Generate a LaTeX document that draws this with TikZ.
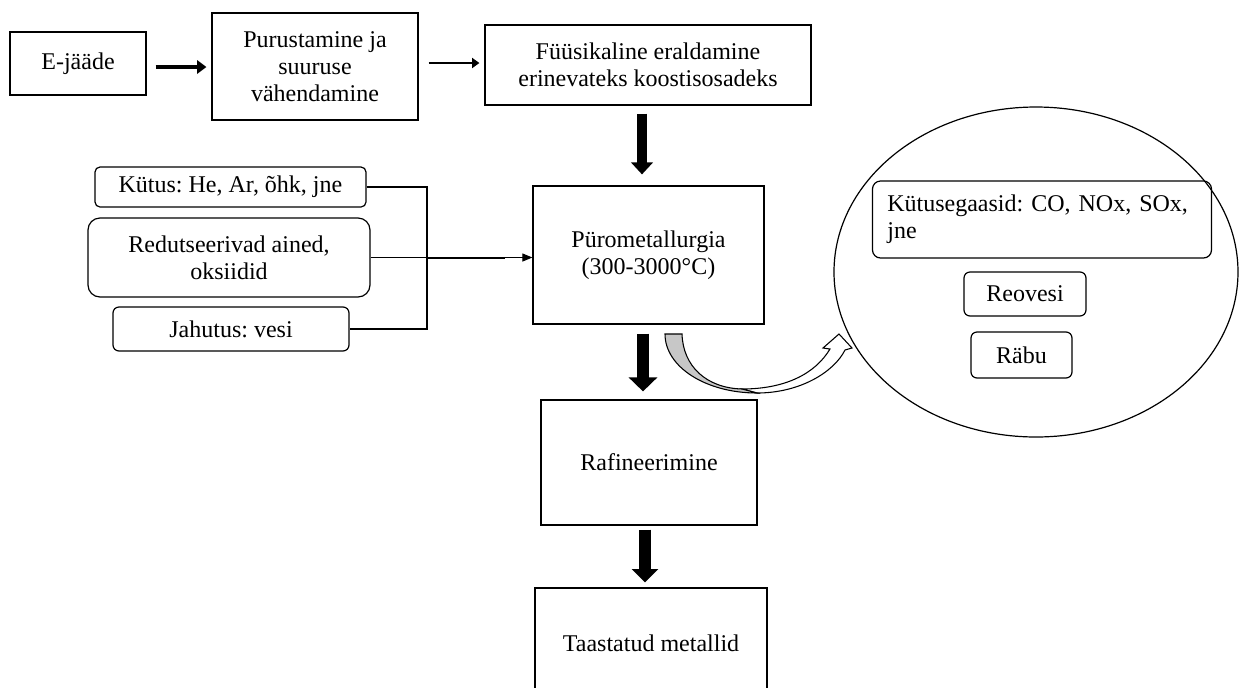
\documentclass[tikz,border=0pt]{standalone}
\usepackage{fontspec}
\setmainfont{Liberation Serif}
\usetikzlibrary{arrows.meta,shapes.geometric,calc}
\frenchspacing

\tikzset{
  x=0.75pt, y=-0.75pt,
  every node/.style={font=\fontsize{18pt}{20.5pt}\selectfont, align=center, inner sep=0pt},
  plainbox/.style={draw, line width=0.9pt, rectangle},
  roundbox/.style={draw, line width=0.9pt, rectangle, rounded corners=#1},
  roundbox/.default=4.5pt,
  feed/.style={line width=0.8pt},
}

\begin{document}
\begin{tikzpicture}
\clip (0,0) rectangle (1240,687);
\fill[white] (0,0) rectangle (1240,687);

% main process chain
\node[plainbox, minimum width=102pt, minimum height=47.25pt] (ejaade) at (78,63.5) {E-jääde};
\node[plainbox, minimum width=154.5pt, minimum height=80.25pt] (purust) at (315,66.5)
  {Purustamine ja\\suuruse\\vähendamine};
\node[plainbox, minimum width=244.5pt, minimum height=60pt] (fuus) at (648,65)
  {Füüsikaline eraldamine\\erinevateks koostisosadeks};
\node[plainbox, minimum width=173.25pt, minimum height=103.5pt] (pyro) at (648.5,255)
  {Pürometallurgia\\(300-3000°C)};
\node[plainbox, minimum width=162pt, minimum height=93.75pt] (raf) at (649,462.5) {Rafineerimine};
\node[plainbox, minimum width=174pt, minimum height=82.5pt] (taast) at (651,643) {Taastatud metallid};

% inputs to the furnace
\node[roundbox=3.75pt, minimum width=203.25pt, minimum height=30pt] (kutus) at (230.5,187)
  {Kütus: He, Ar, õhk, jne};
\node[roundbox=9pt, minimum width=211.5pt, minimum height=59.25pt] (redut) at (229,257.5)
  {Redutseerivad ained,\\oksiidid};
\node[roundbox=4.5pt, minimum width=177pt, minimum height=33pt] (jahut) at (231,329)
  {Jahutus: vesi};

% outputs of the furnace
\node[draw, line width=0.9pt, ellipse, minimum width=303pt, minimum height=247.5pt] (outlet) at (1036,272) {};
\node[roundbox=6pt, minimum width=254.25pt, minimum height=57.75pt, text width=232pt, align=left] (gaas)
  at (1042,219.5) {Kütusegaasid: CO, NOx, SOx,\\jne};
\node[roundbox=4.5pt, minimum width=91.5pt, minimum height=33pt] (reov) at (1025,294) {Reovesi};
\node[roundbox=4.5pt, minimum width=75.75pt, minimum height=34.5pt] (rabu) at (1021.5,355) {Räbu};

% horizontal arrows of the first row
\draw[line width=3.4pt, -{Triangle[length=7pt,width=10pt]}]
  ($(ejaade.east)+(9,3.5)$) -- ($(purust.west)+(-5,0.5)$);
\draw[line width=2.2pt, -{Triangle[length=5.5pt,width=7.5pt]}]
  ($(purust.east)+(10,-3.5)$) -- ($(fuus.west)+(-5,-2)$);

% block arrows down the chain
\draw[line width=7.5pt, -{Triangle[length=9pt,width=16pt]}]
  ($(fuus.south)+(-6,8)$) -- ($(pyro.north)+(-6.5,-11)$);
\draw[line width=9pt, -{Triangle[length=10.5pt,width=21pt]}]
  ($(pyro.south)+(-5.5,9)$) -- ($(raf.north)+(-6,-8)$);
\draw[line width=9.5pt, -{Triangle[length=10pt,width=19.5pt]}]
  ($(raf.south)+(-4,4)$) -- ($(taast.north)+(-6,-5)$);

% feed lines joining into the furnace
\coordinate (bus) at (427,258);
\draw[feed] (kutus.east) -- (kutus.east -| bus) -- (jahut.east -| bus) -- (jahut.east);
\draw[feed, -{Triangle[length=7.5pt,width=6pt]}] (redut.east) -- (redut.east -| pyro.west);
\draw[line width=1.3pt] (bus) -- (505,258);

% curved arrow from the furnace to its outputs
\coordinate (cstart) at (665,334);
\coordinate (ctip) at (839,334);
\filldraw[fill=white, line width=0.8pt]
  (757,393) .. controls (800,393) and (834,372) .. (845,350)
  -- (852,348) -- (ctip) -- (823,348) -- (830,349)
  .. controls (815,374) and (785,389) .. (742,389) -- cycle;
\filldraw[fill=black!22, line width=0.8pt]
  (cstart) -- (682,334) .. controls (683,366) and (706,388) .. (742,389)
  -- (757,393) .. controls (706,393) and (665,367) .. (cstart) -- cycle;
\end{tikzpicture}
\end{document}
